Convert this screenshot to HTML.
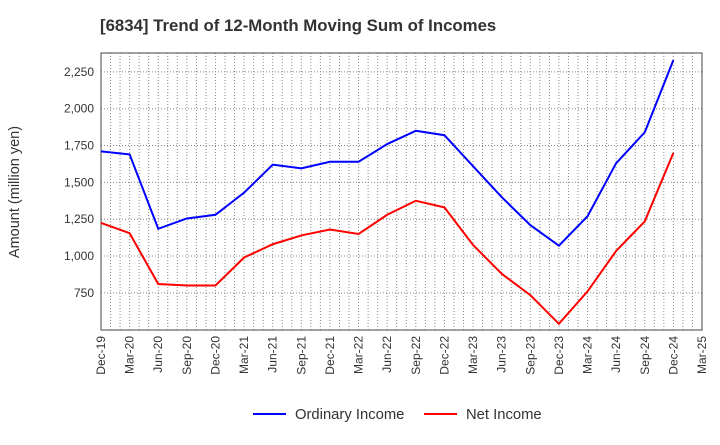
<!DOCTYPE html>
<html><head><meta charset="utf-8"><style>
body{margin:0;background:#fff;font-family:"Liberation Sans",sans-serif}
</style></head><body>
<svg id="c" width="720" height="440" xmlns="http://www.w3.org/2000/svg"></svg>
<script>
const categories=["Dec-19","Mar-20","Jun-20","Sep-20","Dec-20","Mar-21","Jun-21","Sep-21","Dec-21","Mar-22","Jun-22","Sep-22","Dec-22","Mar-23","Jun-23","Sep-23","Dec-23","Mar-24","Jun-24","Sep-24","Dec-24","Mar-25"];
const ordinaryIncome=[1710,1690,1185,1255,1280,1430,1620,1595,1640,1640,1760,1850,1820,1610,1400,1210,1070,1270,1630,1840,2330];
const netIncome=[1225,1155,810,800,800,990,1080,1140,1180,1150,1280,1375,1330,1075,880,735,540,760,1035,1235,1700];
const yTicks=[750,1000,1250,1500,1750,2000,2250];
const yTickLabels=["750","1,000","1,250","1,500","1,750","2,000","2,250"];
const NS="http://www.w3.org/2000/svg",svg=document.getElementById('c');
const L=101,R=702,T=53,B=330,yMin=498,yMax=2378;
const x=i=>L+(R-L)*i/(categories.length-1);
const y=v=>B-(v-yMin)/(yMax-yMin)*(B-T);
function el(t,a,p){const e=document.createElementNS(NS,t);for(const k in a)e.setAttribute(k,a[k]);(p||svg).appendChild(e);return e;}
const title=el('text',{x:100,y:31,'font-size':16.8,'font-weight':'bold',fill:'#333'});


title.textContent='[6834]  Trend of 12-Month Moving Sum of Incomes';
const grid=el('g',{stroke:'#888','stroke-width':1,'stroke-dasharray':'1,2'});


for(let m=1;m<(categories.length-1)*3;m++){const xx=L+(R-L)*m/((categories.length-1)*3);el('line',{x1:xx,x2:xx,y1:T,y2:B},grid);}
yTicks.forEach((v,i)=>{el('line',{x1:L,x2:R,y1:y(v),y2:y(v)},grid);
const t=el('text',{x:L-7,y:y(v)+4,'text-anchor':'end','font-size':12,fill:'#333'});


t.textContent=yTickLabels[i];});
const frame=el('rect',{x:L,y:T,width:R-L,height:B-T,fill:'none',stroke:'#444'});


categories.forEach((c,i)=>{const t=el('text',{transform:`translate(${x(i)+4},${B+6}) rotate(-90)`,'text-anchor':'end','font-size':12,fill:'#333'});


t.textContent=c;});
const yt=el('text',{transform:'translate(19,192) rotate(-90)','text-anchor':'middle','font-size':14.5,fill:'#333'});


yt.textContent='Amount (million yen)';
function line(d,col,name){const p=el('polyline',{points:d.map((v,i)=>x(i)+','+y(v)).join(' '),fill:'none',stroke:col,'stroke-width':2});

}
line(ordinaryIncome,'#0000ff','ordinary-income-line');
line(netIncome,'#ff0000','net-income-line');
[['Ordinary Income','#0000ff',253],['Net Income','#ff0000',424]].forEach(([n,c,lx])=>{
const g=el('g',{});


el('line',{x1:lx,x2:lx+33,y1:414,y2:414,stroke:c,'stroke-width':2},g);
const t=el('text',{x:lx+42,y:419,'font-size':14.8,fill:'#333'},g);t.textContent=n;});
</script>
</body></html>
